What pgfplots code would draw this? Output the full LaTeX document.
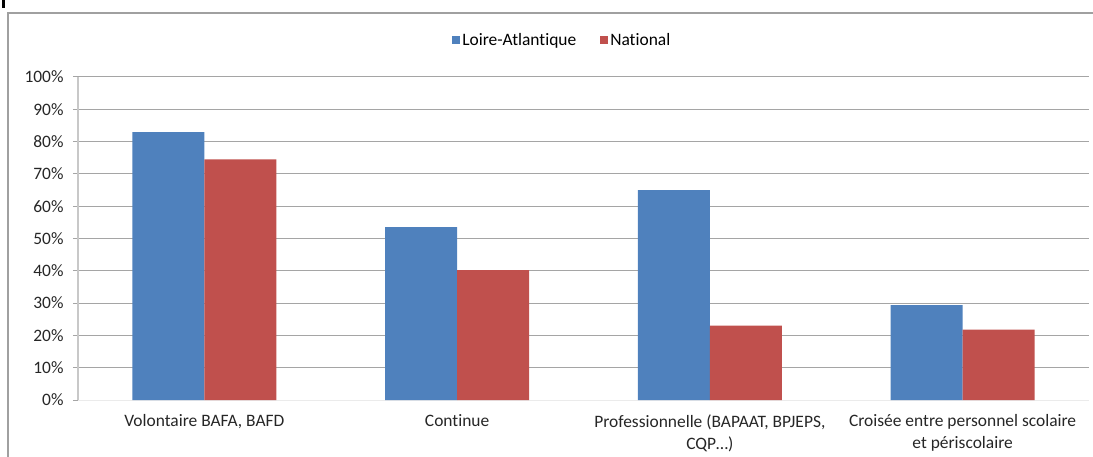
\documentclass[border=0pt]{standalone}
\usepackage{fontspec}
\setmainfont{Carlito}[Ligatures=NoCommon]
\usepackage{pgfplots}
\pgfplotsset{compat=1.18}
\definecolor{blueS}{RGB}{79,129,189}
\definecolor{redS}{RGB}{192,80,77}
\definecolor{gridc}{RGB}{165,165,165}
\definecolor{framec}{RGB}{160,160,160}
\definecolor{yaxc}{RGB}{200,200,200}
\definecolor{xaxc}{RGB}{235,235,235}
\begin{document}
\begin{tikzpicture}
\path[use as bounding box] (-78bp,-57bp) rectangle (1015bp,400bp);
\draw[framec, line width=1.2bp] (-70bp,-60bp) -- (-70bp,387bp) -- (1020bp,387bp);
\fill[black] (-76bp,392bp) rectangle (-73bp,400bp);
\begin{axis}[
  at={(0bp,0bp)}, anchor=south west,
  scale only axis, width=1011bp, height=323bp,
  xmin=-0.5, xmax=3.5, ymin=0, ymax=100,
  font=\fontsize{17.5}{22}\selectfont,
  /pgf/number format/assume math mode=true,
  xtick={0,1,2,3},
  xticklabels={{Volontaire BAFA, BAFD},{Continue},{Professionnelle (BAPAAT, BPJEPS,\\CQP…)},{Croisée entre personnel scolaire\\et périscolaire}},
  x tick label style={align=center, text=black!85, yshift=-6bp},
  major x tick style={draw=none},
  extra x ticks={0.5,1.5,2.5,3.5},
  extra x tick labels={},
  extra x tick style={tick align=outside, major tick length=5bp, tick style={draw=gridc, line width=1bp}, grid=none},
  ytick={10,20,...,100},
  extra y ticks={0},
  extra y tick style={grid=none},
  yticklabel={\pgfmathprintnumber{\tick}\%},
  y tick label style={text=black!85, xshift=-6bp},
  tick align=outside,
  major tick length=5bp,
  y tick style={draw=gridc, line width=1bp},
  ymajorgrids,
  grid style={draw=gridc, line width=1bp},
  axis x line*=bottom, axis y line*=left,
  x axis line style={draw=xaxc, line width=1bp, -},
  y axis line style={draw=yaxc, line width=2bp, -},
  legend style={at={(0.479,1.115)}, anchor=center, draw=none, fill=none,
    legend columns=2, font=\fontsize{17.5}{22}\selectfont,
    /tikz/every even column/.append style={column sep=22bp}},
  legend image code/.code={\fill[#1] (0bp,-4bp) rectangle (8bp,4bp);},
]
\addplot[ybar, bar width=0.285, bar shift=-0.1425, fill=blueS, draw=none]
  coordinates {(0,82.9) (1,53.5) (2,65.0) (3,29.4)};
\addlegendentry{Loire-Atlantique}
\addplot[ybar, bar width=0.285, bar shift=0.1425, fill=redS, draw=none]
  coordinates {(0,74.5) (1,40.2) (2,23.0) (3,21.8)};
\addlegendentry{National}
\end{axis}
\end{tikzpicture}
\end{document}
